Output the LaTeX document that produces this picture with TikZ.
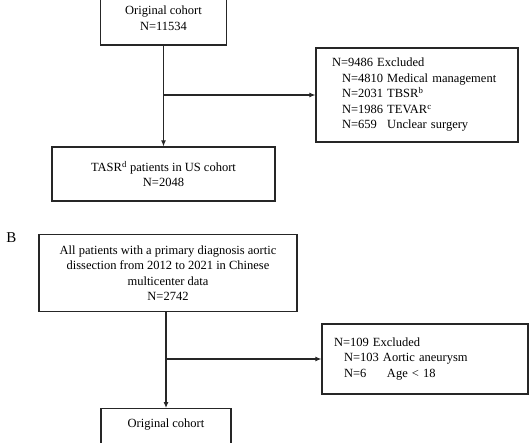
\documentclass[tikz,border=0pt]{standalone}
\usepackage{fontspec}
\setmainfont{Liberation Serif}
\usetikzlibrary{arrows.meta,positioning}

\begin{document}
\begin{tikzpicture}[->,>={Latex[length=6pt,width=5pt]},x=1pt,y=-1pt,
line width=1.1pt,draw=black!85]
\tikzstyle{box}=[draw=black!85,line width=1.2pt,fill=white,shape=rectangle,text=black,inner sep=0pt,
align=center,font=\fontsize{12.5}{15.5}\selectfont]
\tikzstyle{list}=[box,align=left]

\useasboundingbox (0,0) rectangle (530,442);
\clip (0,0) rectangle (530,442);

% A: US cohort
\node[box,minimum width=126,minimum height=54] (orig1) at (163.5,18) {Original cohort\\N=11534};
\node[list,text width=170,inner xsep=16,minimum height=94] (excl1) at (417,95)
{N=9486 Excluded\\
\hspace{10pt}N=4810 Medical management\\
\hspace{10pt}N=2031 TBSR\textsuperscript{b}\\
\hspace{10pt}N=1986 TEVAR\textsuperscript{c}\\
\hspace{10pt}N=659\phantom{0} Unclear surgery};
\node[box,minimum width=223,minimum height=54] (usa) at (163.5,174) {TASR\textsuperscript{d} patients in US cohort\\N=2048};

% B: Chinese cohort
\node[font=\fontsize{15}{18}\selectfont] (labB) at (11.5,238) {B};
\node[box,minimum width=258,minimum height=77] (all) at (168,273)
{All patients with a primary diagnosis aortic\\dissection from 2012 to 2021 in Chinese\\multicenter data\\N=2742};
\node[list,text width=182,inner xsep=12,minimum height=70] (excl2) at (425,359)
{N=109 Excluded\\
\hspace{10pt}N=103 Aortic aneurysm\\
\hspace{10pt}N=6\phantom{00}\hspace{4pt} Age < 18};
\node[box,minimum width=130,anchor=north,text height=10pt,text depth=40pt,inner ysep=9pt] (orig2) at (166,408) {Original cohort};

\coordinate (j1) at (orig1 |- excl1);
\coordinate (top2) at (all.south -| orig2);
\coordinate (j2) at (orig2 |- excl2);

\path (orig1) edge (usa)
(j1) edge (excl1)
(top2) edge (orig2)
(j2) edge (excl2);
\end{tikzpicture}
\end{document}
